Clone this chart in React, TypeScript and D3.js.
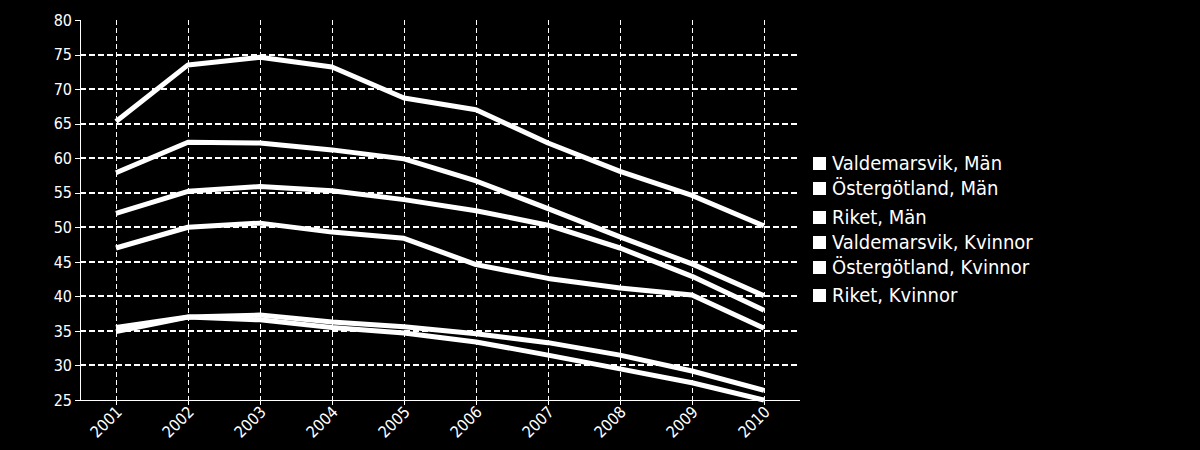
import * as React from "react";
import * as d3 from "d3";

const years = ["2001", "2002", "2003", "2004", "2005", "2006", "2007", "2008", "2009", "2010"];

const valdemarsvikMan = [65.3, 73.5, 74.6, 73.2, 68.7, 67.0, 62.2, 58.1, 54.6, 50.2];
const ostergotlandMan = [57.9, 62.3, 62.2, 61.2, 59.9, 56.7, 52.7, 48.6, 44.7, 40.1];
const riketMan = [52.0, 55.2, 55.9, 55.3, 54.0, 52.4, 50.3, 47.0, 42.9, 38.0];
const valdemarsvikKvinnor = [47.0, 50.0, 50.6, 49.3, 48.4, 44.6, 42.6, 41.2, 40.2, 35.4];
const ostergotlandKvinnor = [35.5, 37.0, 37.3, 36.3, 35.6, 34.6, 33.3, 31.5, 29.2, 26.4];
const riketKvinnor = [34.9, 37.0, 36.6, 35.5, 34.7, 33.4, 31.5, 29.5, 27.5, 25.0];

const seriesNames = [
  "Valdemarsvik, Män",
  "Östergötland, Män",
  "Riket, Män",
  "Valdemarsvik, Kvinnor",
  "Östergötland, Kvinnor",
  "Riket, Kvinnor",
];
const seriesValues = [
  valdemarsvikMan,
  ostergotlandMan,
  riketMan,
  valdemarsvikKvinnor,
  ostergotlandKvinnor,
  riketKvinnor,
];
// legend rows are not evenly spaced in the original
const legendRowY = [163, 188, 217, 242, 267, 295];

const yTicks = [25, 30, 35, 40, 45, 50, 55, 60, 65, 70, 75, 80];

const W = 1200;
const H = 450;
const PLOT = { left: 80, right: 800, top: 20, bottom: 400 };
const FONT = "'DejaVu Sans Condensed', 'DejaVu Sans', sans-serif";

export default function App() {
  const x = d3.scalePoint<string>().domain(years).range([PLOT.left, PLOT.right]).padding(0.5);
  const y = d3.scaleLinear().domain([25, 80]).range([PLOT.bottom, PLOT.top]);

  const line = d3
    .line<number>()
    .x((_, i) => x(years[i])!)
    .y((v) => y(v));

  return (
    <div style={{ position: "fixed", left: 0, top: 0, width: W, height: H, background: "#000" }}>
      <svg width={W} height={H} style={{ display: "block" }}>
        <rect width={W} height={H} fill="#000" />

        {/* horizontal grid */}
        {yTicks.slice(1, -1).map((t) => (
          <line
            key={`hg-${t}`}
            x1={PLOT.left}
            x2={PLOT.right}
            y1={Math.round(y(t))}
            y2={Math.round(y(t))}
            stroke="#fff"
            strokeWidth={2}
            strokeDasharray="6 3"
            shapeRendering="crispEdges"
          />
        ))}

        {/* vertical grid */}
        {years.map((yr) => (
          <line
            key={`vg-${yr}`}
            x1={Math.round(x(yr)!) + 0.5}
            x2={Math.round(x(yr)!) + 0.5}
            y1={PLOT.top}
            y2={PLOT.bottom}
            stroke="#fff"
            strokeWidth={1}
            strokeDasharray="5 3"
            shapeRendering="crispEdges"
          />
        ))}

        {/* axes */}
        <line x1={PLOT.left + 0.5} x2={PLOT.left + 0.5} y1={PLOT.top} y2={PLOT.bottom} stroke="#fff" shapeRendering="crispEdges" />
        <line x1={PLOT.left} x2={PLOT.right} y1={PLOT.bottom + 0.5} y2={PLOT.bottom + 0.5} stroke="#fff" shapeRendering="crispEdges" />

        {yTicks.map((t) => (
          <g key={`yt-${t}`}>
            <line
              x1={PLOT.left - 5}
              x2={PLOT.left}
              y1={Math.round(y(t)) + 0.5}
              y2={Math.round(y(t)) + 0.5}
              stroke="#fff"
              shapeRendering="crispEdges"
            />
            <text
              x={PLOT.left - 8}
              y={y(t)}
              dy="0.36em"
              textAnchor="end"
              fill="#fff"
              fontFamily={FONT}
              fontSize={16}
            >
              {t}
            </text>
          </g>
        ))}

        {years.map((yr) => (
          <g key={`xt-${yr}`}>
            <line
              x1={Math.round(x(yr)!) + 0.5}
              x2={Math.round(x(yr)!) + 0.5}
              y1={PLOT.bottom}
              y2={PLOT.bottom + 5}
              stroke="#fff"
              shapeRendering="crispEdges"
            />
            <text
              transform={`translate(${x(yr)! + 3},${PLOT.bottom + 9}) rotate(-45)`}
              textAnchor="end"
              dy="0.35em"
              fill="#fff"
              fontFamily={FONT}
              fontSize={16}
            >
              {yr}
            </text>
          </g>
        ))}

        {/* lines */}
        {seriesValues.map((vals, i) => (
          <path
            key={`ln-${i}`}
            d={line(vals) ?? ""}
            fill="none"
            stroke="#fff"
            strokeWidth={5}
            strokeLinejoin="round"
          />
        ))}

        {/* legend */}
        {seriesNames.map((name, i) => (
          <g key={`lg-${i}`} transform={`translate(813,${legendRowY[i]})`}>
            <rect x={0} y={-6} width={13} height={13} fill="#fff" />
            <text x={19} y={0} dy="0.35em" fill="#fff" fontFamily={FONT} fontSize={20}>
              {name}
            </text>
          </g>
        ))}
      </svg>
    </div>
  );
}
